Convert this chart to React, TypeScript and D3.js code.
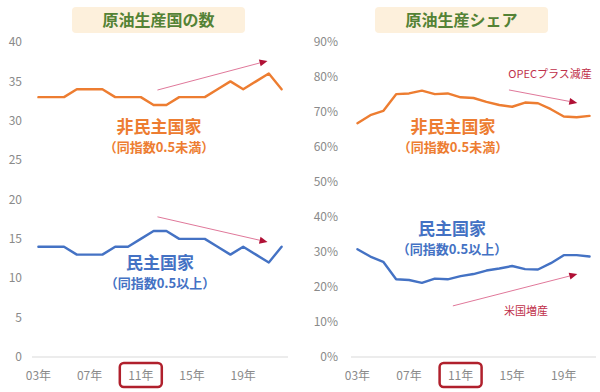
import React from "react";
import * as d3 from "d3";

// 原油生産国の数 (2003-2022)
const countYears = d3.range(2003, 2023);
const nonDemoCount = [33, 33, 33, 34, 34, 34, 33, 33, 33, 32, 32, 33, 33, 33, 34, 35, 34, 35, 36, 34];
const demoCount = [14, 14, 14, 13, 13, 13, 14, 14, 15, 16, 16, 15, 15, 15, 14, 13, 14, 13, 12, 14];

// 原油生産シェア (2003-2021)
const shareYears = d3.range(2003, 2022);
const nonDemoShare = [0.668, 0.691, 0.703, 0.751, 0.753, 0.761, 0.751, 0.753, 0.742, 0.74, 0.729, 0.72, 0.715, 0.727, 0.725, 0.708, 0.687, 0.685, 0.689];
const demoShare = [0.308, 0.287, 0.272, 0.222, 0.22, 0.212, 0.224, 0.222, 0.231, 0.237, 0.247, 0.253, 0.26, 0.251, 0.25, 0.268, 0.291, 0.291, 0.287];

const xTickYears = [2003, 2007, 2011, 2015, 2019];
const xTickLabels = ["03年", "07年", "11年", "15年", "19年"];
const highlightYear = 2011;

const countTicks = d3.range(0, 41, 5);
const shareTicks = d3.range(0, 0.91, 0.1);

const ORANGE = "#ed7d31";
const BLUE = "#4472c4";
const GREEN = "#548235";
const GREY = "#8a8a8a";
const RED = "#c0304a";
const FONT = "'Noto Sans CJK JP', 'Noto Sans', sans-serif";

const W = 600;
const H = 392;
const top = 42;
const bottom = 357;

const xCount = d3.scaleLinear().domain([2002.5, 2022.5]).range([32, 288]);
const yCount = d3.scaleLinear().domain([0, 40]).range([bottom, top]);
const xShare = d3.scaleLinear().domain([2002.5, 2021.5]).range([351, 596]);
const yShare = d3.scaleLinear().domain([0, 0.9]).range([bottom, top]);

interface Arrow { x1: number; y1: number; x2: number; y2: number }

const countArrows: Arrow[] = [
  { x1: 2012.3, y1: 33.9, x2: 2020.9, y2: 37.6 },
  { x1: 2012.3, y1: 17.8, x2: 2020.9, y2: 14.6 },
];
const shareArrows: Arrow[] = [
  { x1: 2014.75, y1: 0.763, x2: 2020.05, y2: 0.726 },
  { x1: 2010.4, y1: 0.146, x2: 2020.05, y2: 0.237 },
];

const Panel: React.FC<{
  title: string;
  years: number[];
  series: { values: number[]; color: string }[];
  x: d3.ScaleLinear<number, number>;
  y: d3.ScaleLinear<number, number>;
  ticks: number[];
  fmt: (v: number) => string;
  labelRight: number;
  titleBox: [number, number];
  arrows: Arrow[];
}> = ({ title, years, series, x, y, ticks, fmt, labelRight, titleBox, arrows }) => {
  const [r0, r1] = x.range();
  return (
    <g>
      <rect x={titleBox[0]} y={7} width={titleBox[1] - titleBox[0]} height={26} rx={4} fill="#fdf0dc" />
      <text x={(titleBox[0] + titleBox[1]) / 2} y={20} dy="0.35em" textAnchor="middle"
        fontSize={16} fontWeight="bold" fill={GREEN}>{title}</text>
      {ticks.map((t) => (
        <text key={t} x={labelRight} y={y(t)} dy="0.35em" textAnchor="end" fontSize={12} fill={GREY}>
          {fmt(t)}
        </text>
      ))}
      <line x1={r0} x2={r1} y1={y(0)} y2={y(0)} stroke="#d9d9d9" strokeWidth={1} />
      {xTickYears.map((yr, i) => (
        <g key={yr}>
          {yr === highlightYear && (
            <rect x={x(yr) - 21} y={363} width={42} height={24} rx={4} fill="none" stroke="#b0202c" strokeWidth={2.5} />
          )}
          <text x={x(yr)} y={376} dy="0.35em" textAnchor="middle" fontSize={12} fill={GREY}>
            {xTickLabels[i]}
          </text>
        </g>
      ))}
      {series.map((s, i) => {
        const line = d3.line<number>().x((_, j) => x(years[j])).y((d) => y(d));
        return (
          <path key={i} d={line(s.values) || ""} fill="none" stroke={s.color} strokeWidth={2.4}
            strokeLinejoin="round" strokeLinecap="round" />
        );
      })}
      {arrows.map((a, i) => {
        const X1 = x(a.x1), Y1 = y(a.y1), X2 = x(a.x2), Y2 = y(a.y2);
        const ang = Math.atan2(Y2 - Y1, X2 - X1);
        const L = 8, Wd = 3.5;
        const bx = X2 - L * Math.cos(ang), by = Y2 - L * Math.sin(ang);
        const pts = [
          [X2, Y2],
          [bx + Wd * Math.sin(ang), by - Wd * Math.cos(ang)],
          [bx - Wd * Math.sin(ang), by + Wd * Math.cos(ang)],
        ].map((p) => p.join(",")).join(" ");
        return (
          <g key={i}>
            <line x1={X1} y1={Y1} x2={bx} y2={by} stroke="#e0789a" strokeWidth={1} />
            <polygon points={pts} fill="#b01035" />
          </g>
        );
      })}
    </g>
  );
};

const Label: React.FC<{ x: number; y: number; main: string; sub: string; color: string }> = ({ x, y, main, sub, color }) => (
  <g fill={color} fontWeight="bold" textAnchor="middle">
    <text x={x} y={y} dy="0.35em" fontSize={17}>{main}</text>
    <text x={x} y={y + 20} dy="0.35em" fontSize={13}>{sub}</text>
  </g>
);

export default function App() {
  return (
    <svg width={W} height={H} style={{ position: "absolute", left: 0, top: 0, background: "#fff" }} fontFamily={FONT}>
      <Panel
        title="原油生産国の数"
        years={countYears}
        series={[{ values: nonDemoCount, color: ORANGE }, { values: demoCount, color: BLUE }]}
        x={xCount}
        y={yCount}
        ticks={countTicks}
        fmt={(v) => String(v)}
        labelRight={22}
        titleBox={[72, 245]}
        arrows={countArrows}
      />
      <Panel
        title="原油生産シェア"
        years={shareYears}
        series={[{ values: nonDemoShare, color: ORANGE }, { values: demoShare, color: BLUE }]}
        x={xShare}
        y={yShare}
        ticks={shareTicks}
        fmt={(v) => `${Math.round(v * 100)}%`}
        labelRight={338}
        titleBox={[375, 548]}
        arrows={shareArrows}
      />
      <Label x={159} y={127} main="非民主国家" sub="（同指数0.5未満）" color={ORANGE} />
      <Label x={160} y={263} main="民主国家" sub="（同指数0.5以上）" color={BLUE} />
      <Label x={453} y={127} main="非民主国家" sub="（同指数0.5未満）" color={ORANGE} />
      <Label x={452} y={229} main="民主国家" sub="（同指数0.5以上）" color={BLUE} />
      <text x={550} y={74} dy="0.35em" textAnchor="middle" fontSize={11} fill={RED}>OPECプラス減産</text>
      <text x={526} y={311} dy="0.35em" textAnchor="middle" fontSize={11} fill={RED}>米国増産</text>
    </svg>
  );
}
